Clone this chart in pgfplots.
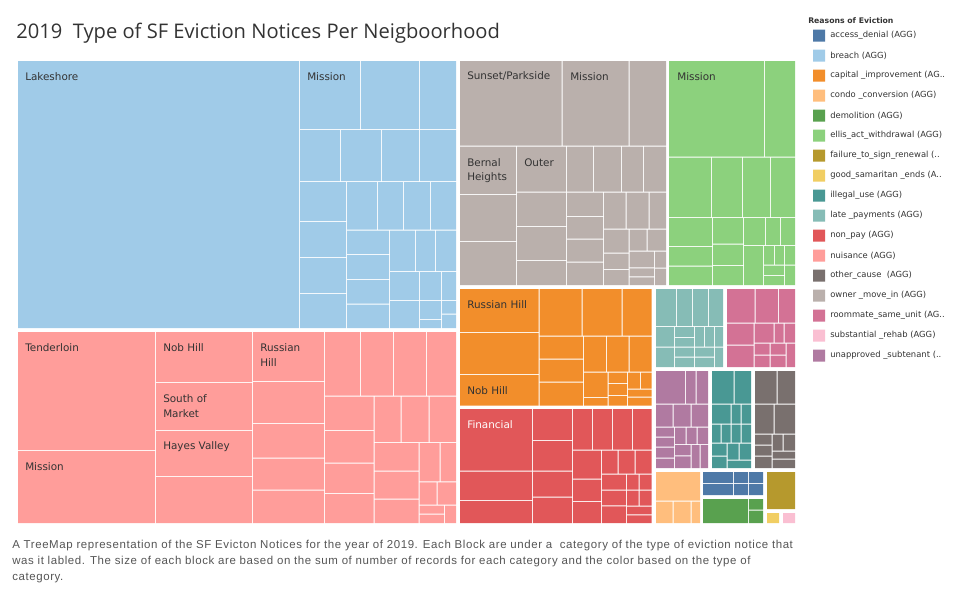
\documentclass[border=0pt]{standalone}
\usepackage{pgfplots}
\pgfplotsset{compat=1.18}
\usepackage{fontspec}
\setmainfont{DejaVu Sans}
\newfontfamily\titlefont{Open Sans}
\newfontfamily\labfont{DejaVu Sans}
\newfontfamily\legfont{DejaVu Sans}
\newfontfamily\capfont[LetterSpace=5.2]{Liberation Sans}
\definecolor{cA}{HTML}{4E79A7}
\definecolor{cB}{HTML}{A0CBE8}
\definecolor{cO}{HTML}{F28E2B}
\definecolor{cC}{HTML}{FFBE7D}
\definecolor{cD}{HTML}{59A14F}
\definecolor{cE}{HTML}{8CD17D}
\definecolor{cF}{HTML}{B6992D}
\definecolor{cS}{HTML}{F1CE63}
\definecolor{cI}{HTML}{499894}
\definecolor{cL}{HTML}{86BCB6}
\definecolor{cN}{HTML}{E15759}
\definecolor{cP}{HTML}{FF9D9A}
\definecolor{cOC}{HTML}{79706E}
\definecolor{cG}{HTML}{BAB0AC}
\definecolor{cRM}{HTML}{D37295}
\definecolor{cSR}{HTML}{FABFD2}
\definecolor{cU}{HTML}{B07AA1}
\definecolor{txt}{HTML}{333333}
\newcommand{\R}[5]{\addplot[fill=#1,draw=none,forget plot] coordinates {(#2,#3) (#4,#3) (#4,#5) (#2,#5) (#2,#3)};}
\newcommand{\lab}{\labfont\fontsize{7.8}{9.6}\selectfont}
\begin{document}
\begin{tikzpicture}
\begin{axis}[scale only axis, width=720pt, height=450pt, xmin=0, xmax=960, ymin=0, ymax=600, y dir=reverse, hide axis, clip=false, no markers]
\path (axis cs:0,0) rectangle (axis cs:960,600);
% breach
\R{cB}{18}{61}{299}{328}
\R{cB}{300}{61}{360}{129}\R{cB}{361}{61}{419}{129}\R{cB}{420}{61}{456}{129}
\R{cB}{300}{130}{340}{181}\R{cB}{341}{130}{381}{181}\R{cB}{382}{130}{419}{181}\R{cB}{420}{130}{456}{181}
\R{cB}{300}{182}{346}{221}\R{cB}{300}{222}{346}{257}\R{cB}{300}{258}{346}{293}\R{cB}{300}{294}{346}{328}
\R{cB}{347}{182}{377}{229.5}\R{cB}{378}{182}{403}{229.5}\R{cB}{404}{182}{430}{229.5}\R{cB}{431}{182}{456}{229.5}
\R{cB}{347}{230.5}{389}{254}\R{cB}{347}{255}{389}{279}\R{cB}{347}{280}{389}{303.5}\R{cB}{347}{304.5}{389}{328}
\R{cB}{390}{230.5}{415}{271}\R{cB}{416}{230.5}{435}{271}\R{cB}{436}{230.5}{456}{271}
\R{cB}{390}{272}{419}{300}\R{cB}{390}{301}{419}{328}
\R{cB}{420}{272}{441}{300}\R{cB}{420}{301}{441}{319}\R{cB}{420}{320}{441}{328}
\R{cB}{442}{272}{456}{300}\R{cB}{442}{301}{456}{313.5}\R{cB}{442}{314.5}{456}{328}
% nuisance
\R{cP}{18}{332}{155}{450}\R{cP}{18}{451}{155}{523}
\R{cP}{156}{332}{252}{382}\R{cP}{156}{383}{252}{430}\R{cP}{156}{431}{252}{476}\R{cP}{156}{477}{252}{523}
\R{cP}{253}{332}{324}{381}\R{cP}{253}{382}{324}{423}\R{cP}{253}{424}{324}{457.5}\R{cP}{253}{458.5}{324}{489.5}\R{cP}{253}{490.5}{324}{523}
\R{cP}{325}{332}{360}{395.5}\R{cP}{361}{332}{393}{395.5}\R{cP}{394}{332}{426}{395.5}\R{cP}{427}{332}{456}{395.5}
\R{cP}{325}{396.5}{373.5}{430}\R{cP}{325}{431}{373.5}{462.5}\R{cP}{325}{463.5}{373.5}{493}\R{cP}{325}{494}{373.5}{523}
\R{cP}{374.5}{396.5}{400.5}{442}\R{cP}{401.5}{396.5}{428.5}{442}\R{cP}{429.5}{396.5}{456}{442}
\R{cP}{374.5}{443}{418.5}{470.5}\R{cP}{374.5}{471.5}{418.5}{498.5}\R{cP}{374.5}{499.5}{418.5}{523}
\R{cP}{419.5}{443}{439.5}{481.3}\R{cP}{440.5}{443}{456}{481.3}
\R{cP}{419.5}{482.3}{436.5}{504.7}\R{cP}{437.5}{482.3}{456}{504.7}
\R{cP}{419.5}{505.7}{444}{513.7}\R{cP}{419.5}{514.7}{444}{523}\R{cP}{445}{505.7}{456}{523}
% owner move in
\R{cG}{460}{61}{561.5}{145.7}\R{cG}{562.5}{61}{628.7}{145.7}\R{cG}{629.7}{61}{666}{145.7}
\R{cG}{460}{146.7}{516}{194}\R{cG}{460}{195}{516}{241}\R{cG}{460}{242}{516}{285}
\R{cG}{517}{146.7}{566}{191.7}\R{cG}{517}{192.7}{566}{226}\R{cG}{517}{227}{566}{260}\R{cG}{517}{261}{566}{285}
\R{cG}{567}{146.7}{593}{191.7}\R{cG}{594}{146.7}{621}{191.7}\R{cG}{622}{146.7}{643}{191.7}\R{cG}{644}{146.7}{666}{191.7}
\R{cG}{567}{192.7}{603}{216}\R{cG}{567}{217}{603}{238.7}\R{cG}{567}{239.7}{603}{261.5}\R{cG}{567}{262.5}{603}{285}
\R{cG}{604}{192.7}{625.7}{228.5}\R{cG}{626.7}{192.7}{648.7}{228.5}\R{cG}{649.7}{192.7}{666}{228.5}
\R{cG}{604}{229.5}{628.7}{252.7}\R{cG}{604}{253.7}{628.7}{269}\R{cG}{604}{270}{628.7}{285}
\R{cG}{629.5}{229.5}{646.7}{250.7}\R{cG}{647.7}{229.5}{666}{250.7}
\R{cG}{629.5}{251.7}{654}{267.3}\R{cG}{629.5}{268.3}{654}{276.3}\R{cG}{629.5}{277.3}{654}{285}
\R{cG}{655}{251.7}{666}{267.7}\R{cG}{655}{268.7}{666}{285}
% ellis
\R{cE}{669}{61}{764}{156.7}\R{cE}{765}{61}{795}{156.7}
\R{cE}{669}{157.7}{711}{217}\R{cE}{712}{157.7}{742}{217}\R{cE}{743}{157.7}{770}{217}\R{cE}{771}{157.7}{795}{217}
\R{cE}{669}{218}{712}{246}\R{cE}{669}{247}{712}{265.7}\R{cE}{669}{266.7}{712}{285}
\R{cE}{713}{218}{743}{243.7}\R{cE}{713}{244.7}{743}{265}\R{cE}{713}{266}{743}{285}
\R{cE}{744}{218}{765}{245}\R{cE}{766}{218}{780}{245}\R{cE}{781}{218}{795}{245}
\R{cE}{744}{246}{763}{285}
\R{cE}{764}{246}{774}{264.7}\R{cE}{775}{246}{784}{264.7}
\R{cE}{764}{265.7}{784}{275}\R{cE}{764}{276}{784}{285}
\R{cE}{785}{246}{795}{264.7}\R{cE}{785}{265.7}{795}{285}
% capital improvement
\R{cO}{460}{289}{538.7}{332}\R{cO}{460}{333}{538.7}{374}\R{cO}{460}{375}{538.7}{405.7}
\R{cO}{539.7}{289}{581.7}{335.7}\R{cO}{582.7}{289}{621.7}{335.7}\R{cO}{622.7}{289}{651.7}{335.7}
\R{cO}{539.7}{336.7}{583}{358.7}\R{cO}{539.7}{359.7}{583}{381.7}\R{cO}{539.7}{382.7}{583}{405.7}
\R{cO}{584}{336.7}{606}{371.7}\R{cO}{607}{336.7}{628.7}{371.7}\R{cO}{629.7}{336.7}{651.7}{371.7}
\R{cO}{584}{372.7}{607.7}{397}\R{cO}{584}{398}{607.7}{405.7}
\R{cO}{608.7}{372.7}{627}{383}\R{cO}{608.7}{384}{627}{395}\R{cO}{608.7}{396}{627}{405.7}
\R{cO}{628}{372.7}{640}{388.7}\R{cO}{641}{372.7}{651.7}{388.7}
\R{cO}{628}{389.7}{651.7}{396.7}\R{cO}{628}{397.7}{651.7}{405.7}
% non pay
\R{cN}{460}{409}{532}{470.7}\R{cN}{460}{471.7}{532}{500}\R{cN}{460}{501}{532}{523}
\R{cN}{533}{409}{572}{440}\R{cN}{533}{441}{572}{470.7}\R{cN}{533}{471.7}{572}{496.7}\R{cN}{533}{497.5}{572}{523}
\R{cN}{573}{409}{592}{449.7}\R{cN}{593}{409}{612}{449.7}\R{cN}{613}{409}{632}{449.7}\R{cN}{633}{409}{651.7}{449.7}
\R{cN}{573}{450.7}{601}{478.7}\R{cN}{573}{479.7}{601}{501}\R{cN}{573}{502}{601}{523}
\R{cN}{602}{450.7}{617.7}{473.7}\R{cN}{618.7}{450.7}{634.7}{473.7}\R{cN}{635.7}{450.7}{651.7}{473.7}
\R{cN}{602}{474.7}{626}{489.7}\R{cN}{602}{490.7}{626}{505.3}\R{cN}{602}{506.3}{626}{523}
\R{cN}{627}{474.7}{638.7}{489.7}\R{cN}{639.7}{474.7}{651.7}{489.7}
\R{cN}{627}{490.7}{638.7}{505.7}\R{cN}{639.7}{490.7}{651.7}{505.7}
\R{cN}{627}{506.7}{651.7}{514.3}\R{cN}{627}{515.3}{651.7}{523}
% late payments
\R{cL}{656}{289}{676}{326}\R{cL}{677}{289}{692}{326}\R{cL}{693}{289}{708}{326}\R{cL}{709}{289}{723}{326}
\R{cL}{656}{327}{674}{346.7}\R{cL}{656}{347.7}{674}{367}
\R{cL}{675}{327}{694}{337}\R{cL}{675}{338}{694}{346.7}\R{cL}{675}{347.7}{694}{356.7}\R{cL}{675}{357.7}{694}{367}
\R{cL}{695}{327}{704}{346.7}\R{cL}{705}{327}{714}{346.7}
\R{cL}{695}{347.7}{714}{356.7}\R{cL}{695}{357.7}{714}{367}
\R{cL}{715}{327}{723}{346.7}\R{cL}{715}{347.7}{723}{367}
% roommate
\R{cRM}{727}{289}{754.7}{322.7}\R{cRM}{755.7}{289}{778}{322.7}\R{cRM}{779}{289}{795}{322.7}
\R{cRM}{727}{323.7}{753.7}{344.7}\R{cRM}{727}{345.7}{753.7}{367}
\R{cRM}{754.7}{323.7}{773.7}{342.7}\R{cRM}{774.7}{323.7}{783.7}{342.7}\R{cRM}{784.7}{323.7}{795}{342.7}
\R{cRM}{754.7}{343.7}{769.7}{354.7}\R{cRM}{770.7}{343.7}{785.7}{354.7}
\R{cRM}{754.7}{355.7}{769.7}{367}\R{cRM}{770.7}{355.7}{785.7}{367}
\R{cRM}{786.7}{343.7}{795}{367}
% unapproved subtenant
\R{cU}{656}{371}{685}{403.7}\R{cU}{686}{371}{695.7}{403.7}\R{cU}{696.7}{371}{708}{403.7}
\R{cU}{656}{404.7}{672.7}{426.7}\R{cU}{673.7}{404.7}{690.7}{426.7}\R{cU}{691.7}{404.7}{708}{426.7}
\R{cU}{656}{427.7}{674}{436.7}\R{cU}{656}{437.7}{674}{446.7}\R{cU}{656}{447.7}{674}{457.7}\R{cU}{656}{458.7}{674}{468}
\R{cU}{675}{427.7}{685.7}{444}\R{cU}{686.7}{427.7}{696.7}{444}\R{cU}{697.7}{427.7}{708}{444}
\R{cU}{675}{445}{690.7}{455.3}\R{cU}{675}{456.3}{690.7}{468}
\R{cU}{691.7}{445}{699.7}{468}\R{cU}{700.7}{445}{708}{468}
% illegal use
\R{cI}{712}{371}{733.7}{403.7}\R{cI}{734.7}{371}{751}{403.7}
\R{cI}{712}{404.7}{730.7}{423.7}\R{cI}{731.7}{404.7}{740.7}{423.7}\R{cI}{741.7}{404.7}{751}{423.7}
\R{cI}{712}{424.7}{720.7}{442.7}\R{cI}{721.7}{424.7}{730.7}{442.7}\R{cI}{731.7}{424.7}{740.7}{442.7}\R{cI}{741.7}{424.7}{751}{442.7}
\R{cI}{712}{443.7}{726.7}{455.7}\R{cI}{712}{456.7}{726.7}{468}
\R{cI}{727.7}{443.7}{738.7}{459.7}\R{cI}{739.7}{443.7}{751}{459.7}
\R{cI}{727.7}{460.7}{751}{468}
% other cause
\R{cOC}{755}{371}{776.7}{403.7}\R{cOC}{777.7}{371}{795}{403.7}
\R{cOC}{755}{404.7}{773.7}{433.7}\R{cOC}{774.7}{404.7}{795}{433.7}
\R{cOC}{755}{434.7}{771.7}{444.7}\R{cOC}{755}{445.7}{771.7}{455.7}\R{cOC}{755}{456.7}{771.7}{468}
\R{cOC}{772.7}{434.7}{782.7}{450.7}\R{cOC}{783.7}{434.7}{795}{450.7}
\R{cOC}{772.7}{451.7}{795}{458.7}\R{cOC}{772.7}{459.7}{795}{468}
% condo conversion
\R{cC}{656}{472}{700}{500.7}
\R{cC}{656}{501.7}{672.7}{523}\R{cC}{673.7}{501.7}{690.7}{523}\R{cC}{691.7}{501.7}{700}{523}
% access denial
\R{cA}{703}{472}{733}{483}\R{cA}{734}{472}{748}{483}\R{cA}{749}{472}{763}{483}
\R{cA}{703}{484}{733}{495}\R{cA}{734}{484}{748}{495}\R{cA}{749}{484}{763}{495}
% demolition
\R{cD}{703}{499}{748}{523}\R{cD}{749}{499}{763}{509.7}\R{cD}{749}{510.7}{763}{523}
% failure, good samaritan, substantial rehab
\R{cF}{767}{472}{795}{509}
\R{cS}{767}{513}{779}{523}
\R{cSR}{783}{513}{795}{523}
% legend swatches
\R{cA}{813}{29.5}{825}{41.5}
\R{cB}{813}{49.5}{825}{61.5}
\R{cO}{813}{69.5}{825}{81.5}
\R{cC}{813}{89.5}{825}{101.5}
\R{cD}{813}{109.5}{825}{121.5}
\R{cE}{813}{129.5}{825}{141.5}
\R{cF}{813}{149.5}{825}{161.5}
\R{cS}{813}{169.5}{825}{181.5}
\R{cI}{813}{189.5}{825}{201.5}
\R{cL}{813}{209.5}{825}{221.5}
\R{cN}{813}{229.5}{825}{241.5}
\R{cP}{813}{249.5}{825}{261.5}
\R{cOC}{813}{269.5}{825}{281.5}
\R{cG}{813}{289.5}{825}{301.5}
\R{cRM}{813}{309.5}{825}{321.5}
\R{cSR}{813}{329.5}{825}{341.5}
\R{cU}{813}{349.5}{825}{361.5}
% legend texts
\begin{scope}[every node/.style={anchor=west, inner sep=0pt, text=txt, font=\legfont\fontsize{6.3}{7}\selectfont}]
\node[font=\legfont\bfseries\fontsize{5.8}{7}\selectfont] at (axis cs:808,20.5) {Reasons of Eviction};
\node at (axis cs:830,35.5) {access\_denial (AGG)};
\node at (axis cs:830,55.5) {breach (AGG)};
\node at (axis cs:830,75.5) {capital \_improvement (AG..};
\node at (axis cs:830,95.5) {condo \_conversion (AGG)};
\node at (axis cs:830,115.5) {demolition (AGG)};
\node at (axis cs:830,135.5) {ellis\_act\_withdrawal (AGG)};
\node at (axis cs:830,155.5) {failure\_to\_sign\_renewal (..};
\node at (axis cs:830,175.5) {good\_samaritan \_ends (A..};
\node at (axis cs:830,195.5) {illegal\_use (AGG)};
\node at (axis cs:830,215.5) {late \_payments (AGG)};
\node at (axis cs:830,235.5) {non\_pay (AGG)};
\node at (axis cs:830,255.5) {nuisance (AGG)};
\node at (axis cs:830,275.5) {other\_cause~ (AGG)};
\node at (axis cs:830,295.5) {owner \_move\_in (AGG)};
\node at (axis cs:830,315.5) {roommate\_same\_unit (AG..};
\node at (axis cs:830,335.5) {substantial \_rehab (AGG)};
\node at (axis cs:830,355.5) {unapproved \_subtenant (..};
\end{scope}
% block labels
\begin{scope}[every node/.style={anchor=west, inner sep=0pt, text=txt, font=\lab}]
\node at (axis cs:25,76.5) {Lakeshore};
\node at (axis cs:307,76.5) {Mission};
\node at (axis cs:467,76.5) {Sunset/Parkside};
\node at (axis cs:570,76.5) {Mission};
\node at (axis cs:677,76.5) {Mission};
\node at (axis cs:467,162.5) {Bernal};
\node at (axis cs:467,177.5) {Heights};
\node at (axis cs:524,162.5) {Outer};
\node at (axis cs:467,304.5) {Russian Hill};
\node at (axis cs:467,390.5) {Nob Hill};
\node[text=white] at (axis cs:467,424.5) {Financial};
\node at (axis cs:25,347.5) {Tenderloin};
\node at (axis cs:25,466.5) {Mission};
\node at (axis cs:163,347.5) {Nob Hill};
\node at (axis cs:163,398.5) {South of};
\node at (axis cs:163,413.5) {Market};
\node at (axis cs:163,446.5) {Hayes Valley};
\node at (axis cs:260,347.5) {Russian};
\node at (axis cs:260,362.5) {Hill};
\end{scope}
% title and caption
\node[anchor=west, inner sep=0pt, text=txt, font=\titlefont\fontsize{15.1}{18}\selectfont] at (axis cs:16,33) {2019~ Type of SF Eviction Notices Per Neigboorhood};
\node[anchor=north west, inner sep=0pt, text={rgb,255:red,85;green,85;blue,85}, align=left, font=\capfont\fontsize{8.6}{12}\selectfont] at (axis cs:12,540) {A TreeMap representation of the SF Evicton Notices for the year of 2019. Each Block are under a~ category of the type of eviction notice that\\was it labled. The size of each block are based on the sum of number of records for each category and the color based on the type of\\category.};
\end{axis}
\end{tikzpicture}
\end{document}
